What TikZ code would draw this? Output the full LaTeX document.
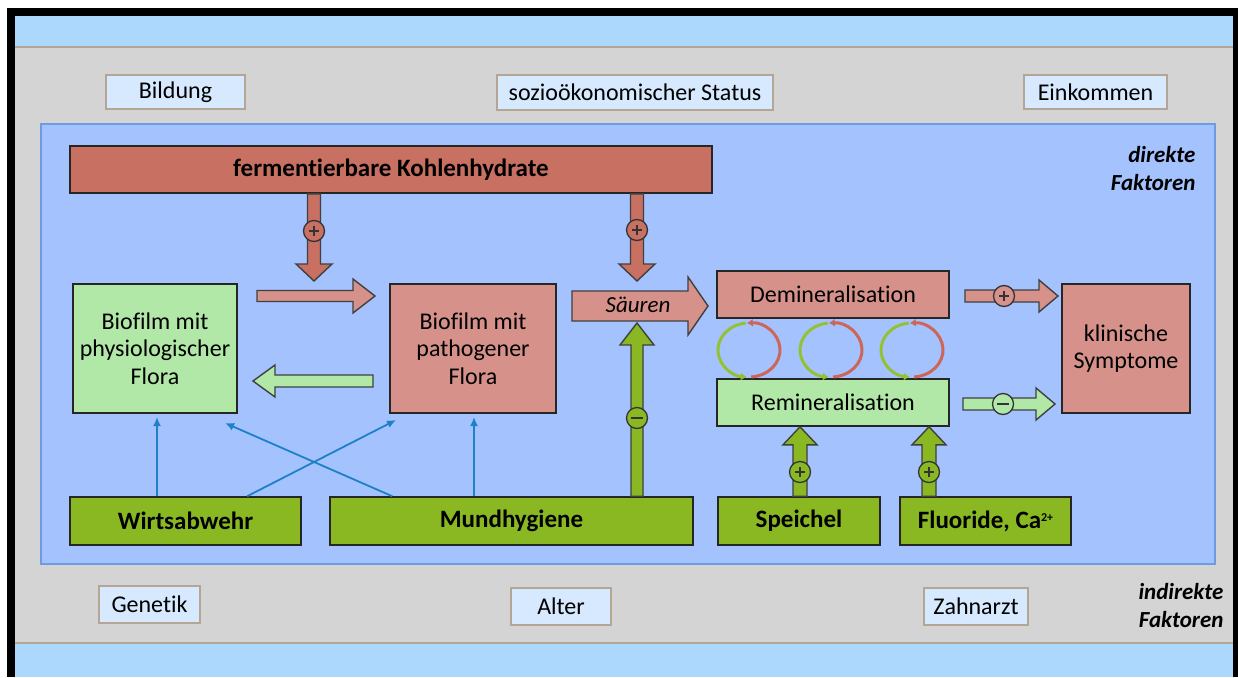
\documentclass[tikz,border=0pt]{standalone}
\usepackage{fontspec}
\setmainfont{Carlito}[Ligatures={NoCommon}]
\usetikzlibrary{calc,arrows.meta}

\definecolor{bandblue}{HTML}{ADD8FE}
\definecolor{panelgray}{HTML}{D4D4D4}
\definecolor{framebrown}{HTML}{B4A595}
\definecolor{innerblue}{HTML}{A4C2FE}
\definecolor{innerline}{HTML}{6E9CE4}
\definecolor{tagfill}{HTML}{D6E9FE}
\definecolor{darkred}{HTML}{C87062}
\definecolor{lightred}{HTML}{D6918A}
\definecolor{lightgreen}{HTML}{B1E8A7}
\definecolor{olive}{HTML}{89B823}
\definecolor{linkblue}{HTML}{1E80C6}
\definecolor{cyclered}{HTML}{CC6658}
\definecolor{cyclegreen}{HTML}{92C232}

% broad arrow: fill, from, to, half stem width, half head width, head length
\newcommand\fatarrow[6]{%
  \coordinate (fa-s) at #2;
  \coordinate (fa-e) at #3;
  \coordinate (fa-h) at ($(fa-e)!#6!(fa-s)$);
  \filldraw[fatline, fill=#1]
    ($(fa-s)!#4!90:(fa-e)$) -- ($(fa-h)!#4!90:(fa-e)$) -- ($(fa-h)!#5!90:(fa-e)$) -- (fa-e)
    -- ($(fa-h)!#5!-90:(fa-e)$) -- ($(fa-h)!#4!-90:(fa-e)$) -- ($(fa-s)!#4!-90:(fa-e)$) -- cycle;
}

\tikzset{
  fatline/.style={draw=black!75, line width=1.4pt, line join=miter},
  tag/.style={draw=framebrown, fill=tagfill, line width=1.3pt, inner sep=0pt},
  boxbase/.style={draw=black!85, line width=1.6pt, inner sep=0pt, align=center},
  redbox/.style={boxbase, fill=lightred},
  greenbox/.style={boxbase, fill=lightgreen},
  boldtext/.style={font=\fontsize{25}{28}\selectfont\bfseries},
  olivebox/.style={boxbase, fill=olive, boldtext},
  sign/.style={circle, draw=black!80, line width=1.3pt, minimum size=21pt, inner sep=0pt},
  plussign/.style={sign, path picture={
      \draw[line width=1.2pt] ($(path picture bounding box.center)+(-5,0)$) -- +(10,0)
                              ($(path picture bounding box.center)+(0,-5)$) -- +(0,10);}},
  minussign/.style={sign, path picture={
      \draw[line width=2pt] ($(path picture bounding box.center)+(-6,0)$) -- +(12,0);}},
  link/.style={draw=linkblue, line width=1.8pt, -{Latex[length=9pt,width=8pt]}},
  cycle arc/.style={line width=3pt, -{Latex[length=6pt,width=8pt]}},
  sidenote/.style={align=right, font=\fontsize{23}{28}\selectfont\bfseries\itshape}
}

\begin{document}
\begin{tikzpicture}[x=1pt, y=-1pt, font=\fontsize{24}{27.5}\selectfont]
\useasboundingbox (0,0) rectangle (1238,677);

% frame and bands
\fill[black] (7,8) rectangle (1238,677);
\fill[bandblue] (15,16) rectangle (1233,677);
\fill[panelgray] (15,47) rectangle (1233,643);
\draw[framebrown, line width=1.3pt] (15,47) -- (1233,47) (15,643) -- (1233,643);

% direct factors panel
\draw[innerline, fill=innerblue, line width=1.3pt] (41,124) rectangle (1215,564);

% indirect factors
\node[tag, minimum width=139pt, minimum height=34pt] (bild) at (175.5,92) {Bildung};
\node[tag, minimum width=276pt, minimum height=35pt] (sozio) at (635,92.5) {sozioökonomischer Status};
\node[tag, minimum width=143pt, minimum height=34pt] (eink) at (1095.5,92) {Einkommen};
\node[tag, minimum width=101pt, minimum height=37pt] (gen) at (149.5,604.5) {Genetik};
\node[tag, minimum width=100pt, minimum height=37pt] (alter) at (561,606.5) {Alter};
\node[tag, minimum width=104pt, minimum height=37pt] (zahn) at (976,606.5) {Zahnarzt};

\node[sidenote, anchor=east] (direkt) at (1199,169) {direkte\\Faktoren};
\node[sidenote, anchor=east] (indirekt) at (1227,606) {indirekte\\Faktoren};

% main boxes
\node[boxbase, fill=darkred, minimum width=642pt, minimum height=47pt, boldtext]
      (kh) at (391,169.5) {fermentierbare Kohlenhydrate};
\node[greenbox, minimum width=164pt, minimum height=129pt] (phys) at (155,348.5)
      {Biofilm mit\\physiologischer\\Flora};
\node[redbox, minimum width=166pt, minimum height=129pt] (path) at (473,348.5)
      {Biofilm mit\\pathogener\\Flora};
\node[redbox, minimum width=232pt, minimum height=47pt] (demin) at (833,294.5) {Demineralisation};
\node[greenbox, minimum width=232pt, minimum height=47pt] (remin) at (833,402.5) {Remineralisation};
\node[redbox, minimum width=128pt, minimum height=129pt] (klin) at (1126,348.5)
      {klinische\\Symptome};
\node[olivebox, minimum width=231pt, minimum height=48pt] (wirts) at (185.5,521) {Wirtsabwehr};
\node[olivebox, minimum width=363pt, minimum height=48pt] (mund) at (511.5,521) {Mundhygiene};
\node[olivebox, minimum width=162pt, minimum height=48pt] (speichel) at (799,521) {Speichel};
\node[olivebox, minimum width=171pt, minimum height=48pt] (fluor) at (985.5,521)
      {Fluoride, Ca\raisebox{0.55ex}{\fontsize{12}{12}\selectfont 2+}};

% carbohydrates feeding the pathogenic flora and the acids
\coordinate (t1) at (314,281);
\fatarrow{darkred}{(t1 |- kh.south)}{(t1)}{6.5pt}{18pt}{17pt}
\node[plussign, fill=darkred] (p1) at (314,231) {};
\coordinate (t2) at (637,281);
\fatarrow{darkred}{(t2 |- kh.south)}{(t2)}{6.5pt}{18pt}{17pt}
\node[plussign, fill=darkred] (p2) at (637,230) {};

% shift between the two floras
\coordinate (s3) at (257,296); \coordinate (t3) at (375,296);
\fatarrow{lightred}{(s3)}{(t3)}{5.5pt}{17pt}{22pt}
\coordinate (s4) at (373,381); \coordinate (t4) at (253,381);
\fatarrow{lightgreen}{(s4)}{(t4)}{6pt}{16pt}{22pt}

% oral hygiene against the acids
\coordinate (t6) at (637,323);
\fatarrow{olive}{(t6 |- mund.north)}{(t6)}{6pt}{17pt}{22pt}
\node[minussign, fill=olive] (m6) at (637,418) {};

% acids
\coordinate (s5) at (572,306); \coordinate (t5) at (708,306);
\fatarrow{lightred}{(s5)}{(t5)}{15pt}{29pt}{20pt}
\node[font=\fontsize{23}{27.5}\selectfont\itshape] (saeure) at (638,305) {Säuren};

% de-/remineralisation cycles
\foreach \cx in {749,831,912} {
  \draw[cycle arc, cyclered] (\cx,350) ++(86:31 and 27)
    arc[start angle=86, end angle=-94, x radius=31, y radius=27];
  \draw[cycle arc, cyclegreen] (\cx,350) ++(264:31 and 27)
    arc[start angle=264, end angle=94, x radius=31, y radius=27];
}

% effects on clinical symptoms
\coordinate (s7) at (965,296); \coordinate (t7) at (1058,296);
\fatarrow{lightred}{(s7)}{(t7)}{6pt}{16pt}{19pt}
\node[plussign, fill=lightred] (p7) at (1004,296) {};
\coordinate (s8) at (963,404); \coordinate (t8) at (1055,404);
\fatarrow{lightgreen}{(s8)}{(t8)}{6pt}{16pt}{19pt}
\node[minussign, fill=lightgreen] (m8) at (1003,404) {};

% saliva and fluoride supporting remineralisation
\coordinate (t9) at (800,426);
\fatarrow{olive}{(t9 |- speichel.north)}{(t9 |- remin.south)}{7pt}{17pt}{18pt}
\node[plussign, fill=olive] (p9) at (800,472) {};
\coordinate (t10) at (929,426);
\fatarrow{olive}{(t10 |- fluor.north)}{(t10 |- remin.south)}{7pt}{17pt}{18pt}
\node[plussign, fill=olive] (p10) at (929,472) {};

% host defence and hygiene acting on the biofilm
\coordinate (b1) at (157,417);
\draw[link] (b1 |- wirts.north) -- (b1);
\coordinate (b2) at (396,420);
\draw[link] ($(wirts.north west)+(178,0)$) -- (b2);
\coordinate (b3) at (225,423);
\draw[link] ($(mund.north west)+(63,0)$) -- (b3);
\coordinate (b4) at (474,417);
\draw[link] (b4 |- mund.north) -- (b4);
\end{tikzpicture}
\end{document}
